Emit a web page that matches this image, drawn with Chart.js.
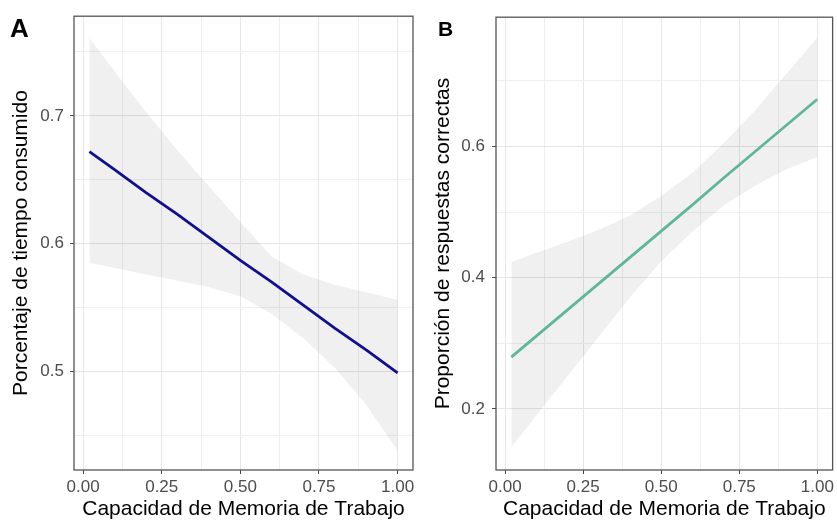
<!DOCTYPE html>
<html>
<head>
<meta charset="utf-8">
<script src="https://cdn.jsdelivr.net/npm/chart.js@4.4.1/dist/chart.umd.min.js"></script>
<style>
  html, body { margin: 0; padding: 0; background: #fff; }
  #wrap { position: relative; width: 837px; height: 527px; }
  .panel { position: absolute; top: 0; height: 527px; }
  .tag { position: absolute; font-family: "Liberation Sans", Arial, sans-serif; font-weight: bold; line-height: 1; color: #000; }
</style>
</head>
<body>
<div id="wrap">
  <div class="panel" style="left:0; width:418px;"><canvas id="chartA"></canvas></div>
  <div class="panel" style="left:418px; width:419px;"><canvas id="chartB"></canvas></div>
  <div class="tag" style="left:10px; top:15px; font-size:26px;">A</div>
  <div class="tag" style="left:438px; top:18px; font-size:21px;">B</div>
</div>
<script>
// Valores (recta ajustada y banda de confianza)
const xVals = [0.02, 0.1, 0.2, 0.3, 0.4, 0.5, 0.6, 0.7, 0.8, 0.9, 1.0];
const tiempoFit = [0.672, 0.658, 0.640, 0.623, 0.605, 0.587, 0.570, 0.552, 0.534, 0.517, 0.499];
const tiempoUpper = [0.761, 0.735, 0.703, 0.673, 0.645, 0.617, 0.590, 0.576, 0.568, 0.562, 0.556];
const tiempoLower = [0.585, 0.581, 0.576, 0.571, 0.566, 0.559, 0.545, 0.526, 0.503, 0.474, 0.438];
const correctasFit = [0.279, 0.311, 0.351, 0.391, 0.431, 0.471, 0.511, 0.552, 0.592, 0.632, 0.672];
const correctasUpper = [0.424, 0.438, 0.455, 0.473, 0.495, 0.525, 0.560, 0.605, 0.655, 0.710, 0.766];
const correctasLower = [0.142, 0.190, 0.250, 0.310, 0.370, 0.425, 0.470, 0.510, 0.540, 0.565, 0.584];

// Marcas de los ejes
const xMajor = [0, 0.25, 0.5, 0.75, 1];
const xMinor = [0.125, 0.375, 0.625, 0.875];
const yMajorA = [0.5, 0.6, 0.7];
const yMinorA = [0.45, 0.55, 0.65, 0.75];
const yMajorB = [0.2, 0.4, 0.6];
const yMinorB = [0.3, 0.5, 0.7];

const FONT = '"Liberation Sans", Arial, sans-serif';

function isIn(list, v) {
    return list.some(function(m) { return Math.abs(m - v) < 1e-9; });
}

function toPoints(ys) {
    return xVals.map(function(x, i) { return { x: x, y: ys[i] }; });
}

// dibuja el borde del panel alrededor del área del gráfico
const panelBorder = {
    id: 'panelBorder',
    afterDatasetsDraw: function(chart) {
        const a = chart.chartArea;
        const ctx = chart.ctx;
        ctx.save();
        ctx.strokeStyle = '#555555';
        ctx.lineWidth = 1.3;
        ctx.strokeRect(a.left, a.top, a.right - a.left, a.bottom - a.top);
        ctx.restore();
    }
};

function makePanel(id, opts) {
    const ctx = document.getElementById(id).getContext('2d');
    return new Chart(ctx, {
        type: 'line',
        data: {
            datasets: [
                {
                    data: toPoints(opts.upper),
                    borderWidth: 0,
                    pointRadius: 0,
                    fill: '+1',
                    backgroundColor: 'rgba(0,0,0,0.06)'
                },
                {
                    data: toPoints(opts.lower),
                    borderWidth: 0,
                    pointRadius: 0,
                    fill: false
                },
                {
                    data: toPoints(opts.fit),
                    borderColor: opts.color,
                    borderWidth: 2.8,
                    pointRadius: 0,
                    fill: false
                }
            ]
        },
        options: {
            responsive: true,
            maintainAspectRatio: false,
            animation: false,
            layout: { padding: { top: 14, right: opts.padRight, left: 0, bottom: 0 } },
            plugins: { legend: { display: false }, tooltip: { enabled: false } },
            scales: {
                x: {
                    type: 'linear',
                    min: -0.029,
                    max: 1.049,
                    afterBuildTicks: function(scale) {
                        scale.ticks = xMajor.concat(xMinor).sort(function(a, b) { return a - b; })
                            .map(function(v) { return { value: v }; });
                    },
                    afterFit: function(scale) { scale.height = 57; },
                    border: { display: false },
                    grid: {
                        color: function(c) { return isIn(xMajor, c.tick.value) ? '#e6e6e6' : '#eeeeee'; },
                        lineWidth: 1,
                        tickLength: 4,
                        tickColor: function(c) { return isIn(xMajor, c.tick.value) ? '#444444' : 'rgba(0,0,0,0)'; }
                    },
                    ticks: {
                        autoSkip: false,
                        maxRotation: 0,
                        padding: 3,
                        color: '#4d4d4d',
                        font: { family: FONT, size: 17 },
                        callback: function(value) { return isIn(xMajor, value) ? value.toFixed(2) : ''; }
                    },
                    title: {
                        display: true,
                        text: 'Capacidad de Memoria de Trabajo',
                        color: '#000',
                        font: { family: FONT, size: 21 },
                        padding: { top: 0, bottom: 5 }
                    }
                },
                y: {
                    type: 'linear',
                    min: opts.yMin,
                    max: opts.yMax,
                    afterBuildTicks: function(scale) {
                        scale.ticks = opts.yMajor.concat(opts.yMinor).sort(function(a, b) { return a - b; })
                            .map(function(v) { return { value: v }; });
                    },
                    afterFit: function(scale) { scale.width = opts.yWidth; },
                    border: { display: false },
                    grid: {
                        color: function(c) { return isIn(opts.yMajor, c.tick.value) ? '#e6e6e6' : '#eeeeee'; },
                        lineWidth: 1,
                        tickLength: 4,
                        tickColor: function(c) { return isIn(opts.yMajor, c.tick.value) ? '#444444' : 'rgba(0,0,0,0)'; }
                    },
                    ticks: {
                        autoSkip: false,
                        padding: opts.tickPad,
                        color: '#4d4d4d',
                        font: { family: FONT, size: 17 },
                        callback: function(value) { return isIn(opts.yMajor, value) ? value.toFixed(1) : ''; }
                    },
                    title: {
                        display: true,
                        text: opts.yTitle,
                        color: '#000',
                        font: { family: FONT, size: 21 },
                        padding: { top: opts.titlePad, bottom: 0 }
                    }
                }
            }
        },
        plugins: [panelBorder]
    });
}

makePanel('chartA', {
    fit: tiempoFit, upper: tiempoUpper, lower: tiempoLower,
    color: '#10109a',
    yMin: 0.423, yMax: 0.778,
    yMajor: yMajorA, yMinor: yMinorA,
    yTitle: 'Porcentaje de tiempo consumido',
    yWidth: 74, padRight: 5, tickPad: 6, titlePad: 9
});

makePanel('chartB', {
    fit: correctasFit, upper: correctasUpper, lower: correctasLower,
    color: '#66c2a5',
    yMin: 0.107, yMax: 0.797,
    yMajor: yMajorB, yMinor: yMinorB,
    yTitle: 'Proporción de respuestas correctas',
    yWidth: 78, padRight: 3, tickPad: 7, titlePad: 13
});
</script>
</body>
</html>
